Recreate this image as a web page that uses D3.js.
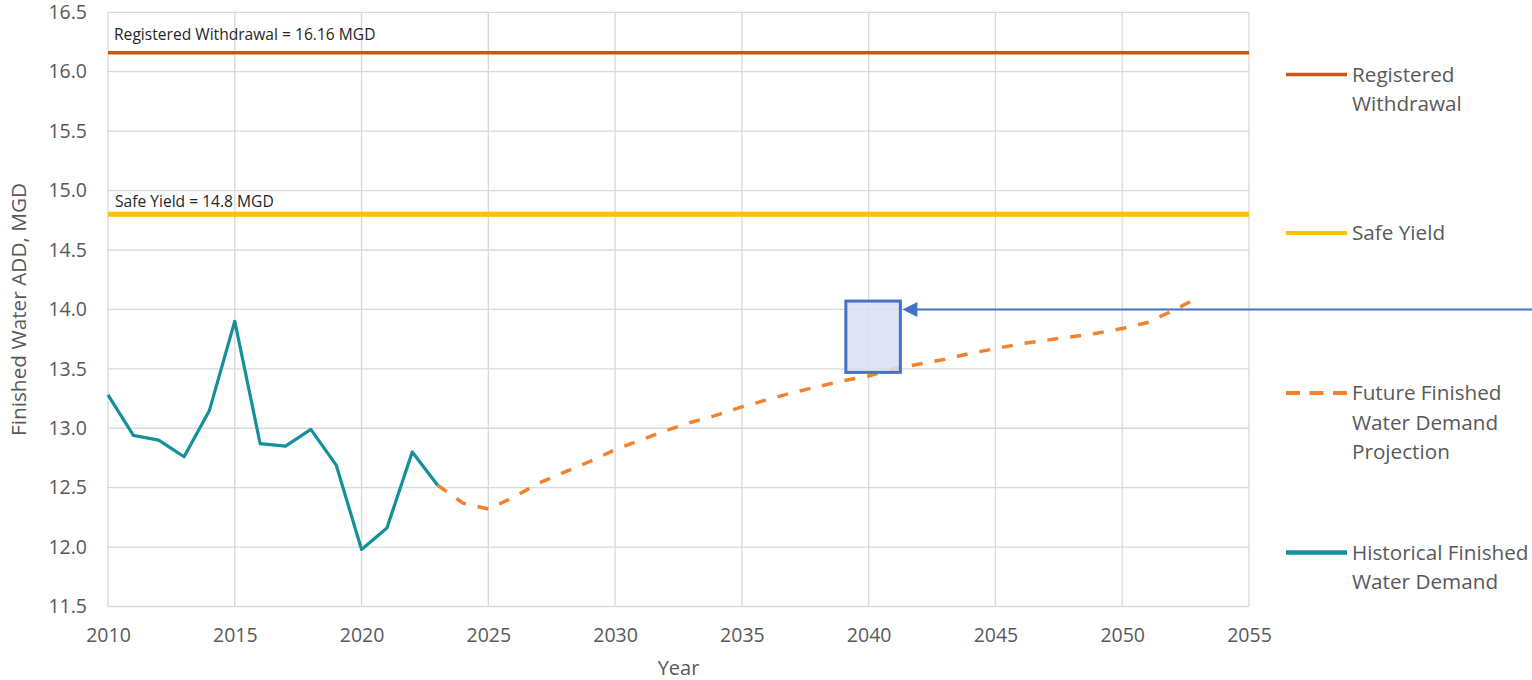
<!DOCTYPE html>
<html>
<head>
<meta charset="utf-8">
<script src="https://cdn.jsdelivr.net/npm/d3@7"></script>
<style>
  html, body { margin: 0; padding: 0; background: #fff; }
  svg { display: block; font-family: "Open Sans", sans-serif; }
</style>
</head>
<body>
<svg id="chart" width="1532" height="680"></svg>
<script>
// ---- data ----
const histYears = [2010, 2011, 2012, 2013, 2014, 2015, 2016, 2017, 2018, 2019, 2020, 2021, 2022, 2023];
const histValues = [13.28, 12.94, 12.90, 12.76, 13.15, 13.90, 12.87, 12.85, 12.99, 12.69, 11.98, 12.16, 12.80, 12.52];

const projYears = [2023, 2024, 2025, 2026, 2027, 2028, 2029, 2030, 2031, 2032, 2033, 2034, 2035, 2036, 2037, 2038,
                   2039, 2040, 2041, 2042, 2043, 2044, 2045, 2046, 2047, 2048, 2049, 2050, 2051, 2052, 2053];
const projValues = [12.52, 12.37, 12.32, 12.42, 12.54, 12.63, 12.72, 12.82, 12.90, 12.98, 13.05, 13.11, 13.18, 13.24, 13.30, 13.35,
                    13.40, 13.44, 13.50, 13.54, 13.58, 13.63, 13.67, 13.71, 13.74, 13.77, 13.80, 13.84, 13.89, 13.99, 14.10];

const registeredWithdrawal = 16.16;
const safeYield = 14.8;

const xTicks = [2010, 2015, 2020, 2025, 2030, 2035, 2040, 2045, 2050, 2055];
const yTicks = [11.5, 12.0, 12.5, 13.0, 13.5, 14.0, 14.5, 15.0, 15.5, 16.0, 16.5];

// annotation: highlight box [x0, x1, yLow, yHigh] and arrow level
const highlightBox = [2039.1, 2041.25, 13.47, 14.07];
const arrowLevel = 14.0;

const labels = {
  registered: "Registered Withdrawal = 16.16 MGD",
  safe: "Safe Yield = 14.8 MGD",
  xTitle: "Year",
  yTitle: "Finished Water ADD, MGD"
};
const legendItems = [
  { key: "registered", lines: ["Registered", "Withdrawal"] },
  { key: "safe", lines: ["Safe Yield"] },
  { key: "proj", lines: ["Future Finished", "Water Demand", "Projection"] },
  { key: "hist", lines: ["Historical Finished", "Water Demand"] }
];

// ---- styles ----
const colors = {
  registered: "#c55a11",
  safe: "#ffc000",
  proj: "#f4812c",
  hist: "#13909a",
  grid: "#d9d9d9",
  text: "#595959",
  annot: "#4472c4",
  annotFill: "#d9e1f2"
};

const svg = d3.select("#chart");
const W = 1532;
const x = d3.scaleLinear().domain([2010, 2055]).range([108, 1249]);
const y = d3.scaleLinear().domain([11.5, 16.5]).range([606.5, 12.3]);

// gridlines
const grid = svg.append("g");
grid.selectAll("line.h").data(yTicks).join("line")
  .attr("x1", x(2010)).attr("x2", x(2055))
  .attr("y1", d => y(d)).attr("y2", d => y(d))
  .attr("stroke", colors.grid).attr("stroke-width", 1.3);
grid.selectAll("line.v").data(xTicks).join("line")
  .attr("x1", d => x(d)).attr("x2", d => x(d))
  .attr("y1", y(11.5)).attr("y2", y(16.5))
  .attr("stroke", colors.grid).attr("stroke-width", 1.3);

// axes (labels only, via d3 axis)
const xAxis = svg.append("g").attr("transform", `translate(0,${y(11.5)})`)
  .call(d3.axisBottom(x).tickValues(xTicks).tickFormat(d3.format("d")).tickSize(0).tickPadding(17));
xAxis.select(".domain").remove();
xAxis.selectAll("text").attr("font-size", 19.5).attr("fill", colors.text)
  .attr("font-family", "Open Sans").attr("dy", "0.95em");

const yAxis = svg.append("g").attr("transform", `translate(${x(2010)},0)`)
  .call(d3.axisLeft(y).tickValues(yTicks).tickFormat(d3.format(".1f")).tickSize(0).tickPadding(21));
yAxis.select(".domain").remove();
yAxis.selectAll("text").attr("font-size", 19.5).attr("fill", colors.text)
  .attr("font-family", "Open Sans");

// axis titles
svg.append("text").attr("x", (x(2010) + x(2055)) / 2).attr("y", 675)
  .attr("text-anchor", "middle").attr("font-size", 20).attr("fill", colors.text).text(labels.xTitle);
svg.append("text").attr("transform", `translate(26,${(y(11.5) + y(16.5)) / 2}) rotate(-90)`)
  .attr("text-anchor", "middle").attr("font-size", 20.8).attr("fill", colors.text).text(labels.yTitle);

// reference lines
svg.append("line").attr("x1", x(2010)).attr("x2", x(2055))
  .attr("y1", y(registeredWithdrawal)).attr("y2", y(registeredWithdrawal))
  .attr("stroke", colors.registered).attr("stroke-width", 3.5);
svg.append("line").attr("x1", x(2010)).attr("x2", x(2055))
  .attr("y1", y(safeYield)).attr("y2", y(safeYield))
  .attr("stroke", colors.safe).attr("stroke-width", 5);

svg.append("text").attr("x", 114).attr("y", y(registeredWithdrawal) - 12.5)
  .attr("font-size", 15.6).attr("fill", "#262626").text(labels.registered);
svg.append("text").attr("x", 115).attr("y", y(safeYield) - 7.5)
  .attr("font-size", 15.6).attr("fill", "#262626").text(labels.safe);

// series
const line = d3.line().x(d => x(d[0])).y(d => y(d[1]));
svg.append("path").datum(d3.zip(projYears, projValues))
  .attr("d", line).attr("fill", "none").attr("stroke", colors.proj)
  .attr("stroke-width", 3.5).attr("stroke-dasharray", "11,12");
svg.append("path").datum(d3.zip(histYears, histValues))
  .attr("d", line).attr("fill", "none").attr("stroke", colors.hist)
  .attr("stroke-width", 3.2).attr("stroke-linejoin", "round");

// annotation box + arrow
svg.append("rect")
  .attr("x", x(highlightBox[0])).attr("y", y(highlightBox[3]))
  .attr("width", x(highlightBox[1]) - x(highlightBox[0]))
  .attr("height", y(highlightBox[2]) - y(highlightBox[3]))
  .attr("fill", colors.annotFill).attr("fill-opacity", 0.85)
  .attr("stroke", colors.annot).attr("stroke-width", 3);
const tipX = x(highlightBox[1]) + 2;
const ay = y(arrowLevel);
svg.append("line").attr("x1", W).attr("x2", tipX + 14).attr("y1", ay).attr("y2", ay)
  .attr("stroke", colors.annot).attr("stroke-width", 2);
svg.append("path")
  .attr("d", `M${tipX},${ay} L${tipX + 15},${ay - 7.5} L${tipX + 15},${ay + 7.5} Z`)
  .attr("fill", colors.annot);

// legend
const legendY = { registered: 74.5, safe: 233, proj: 393, hist: 552.5 };
const lg = svg.append("g");
legendItems.forEach(item => {
  const ly = legendY[item.key];
  const ln = lg.append("line").attr("x1", 1286).attr("x2", 1347).attr("y1", ly).attr("y2", ly)
    .attr("stroke", colors[item.key]).attr("stroke-width", item.key === "hist" ? 4.5 : 4);
  if (item.key === "proj") ln.attr("stroke-dasharray", "14,9.5");
  if (item.key === "registered") ln.attr("stroke-width", 3.5);
  const t = lg.append("text").attr("x", 1352).attr("y", ly).attr("font-size", 20.7).attr("fill", colors.text);
  item.lines.forEach((s, i) => {
    t.append("tspan").attr("x", 1352).attr("y", ly + i * 29.4).attr("dy", "0.35em").text(s);
  });
});
</script>
</body>
</html>
